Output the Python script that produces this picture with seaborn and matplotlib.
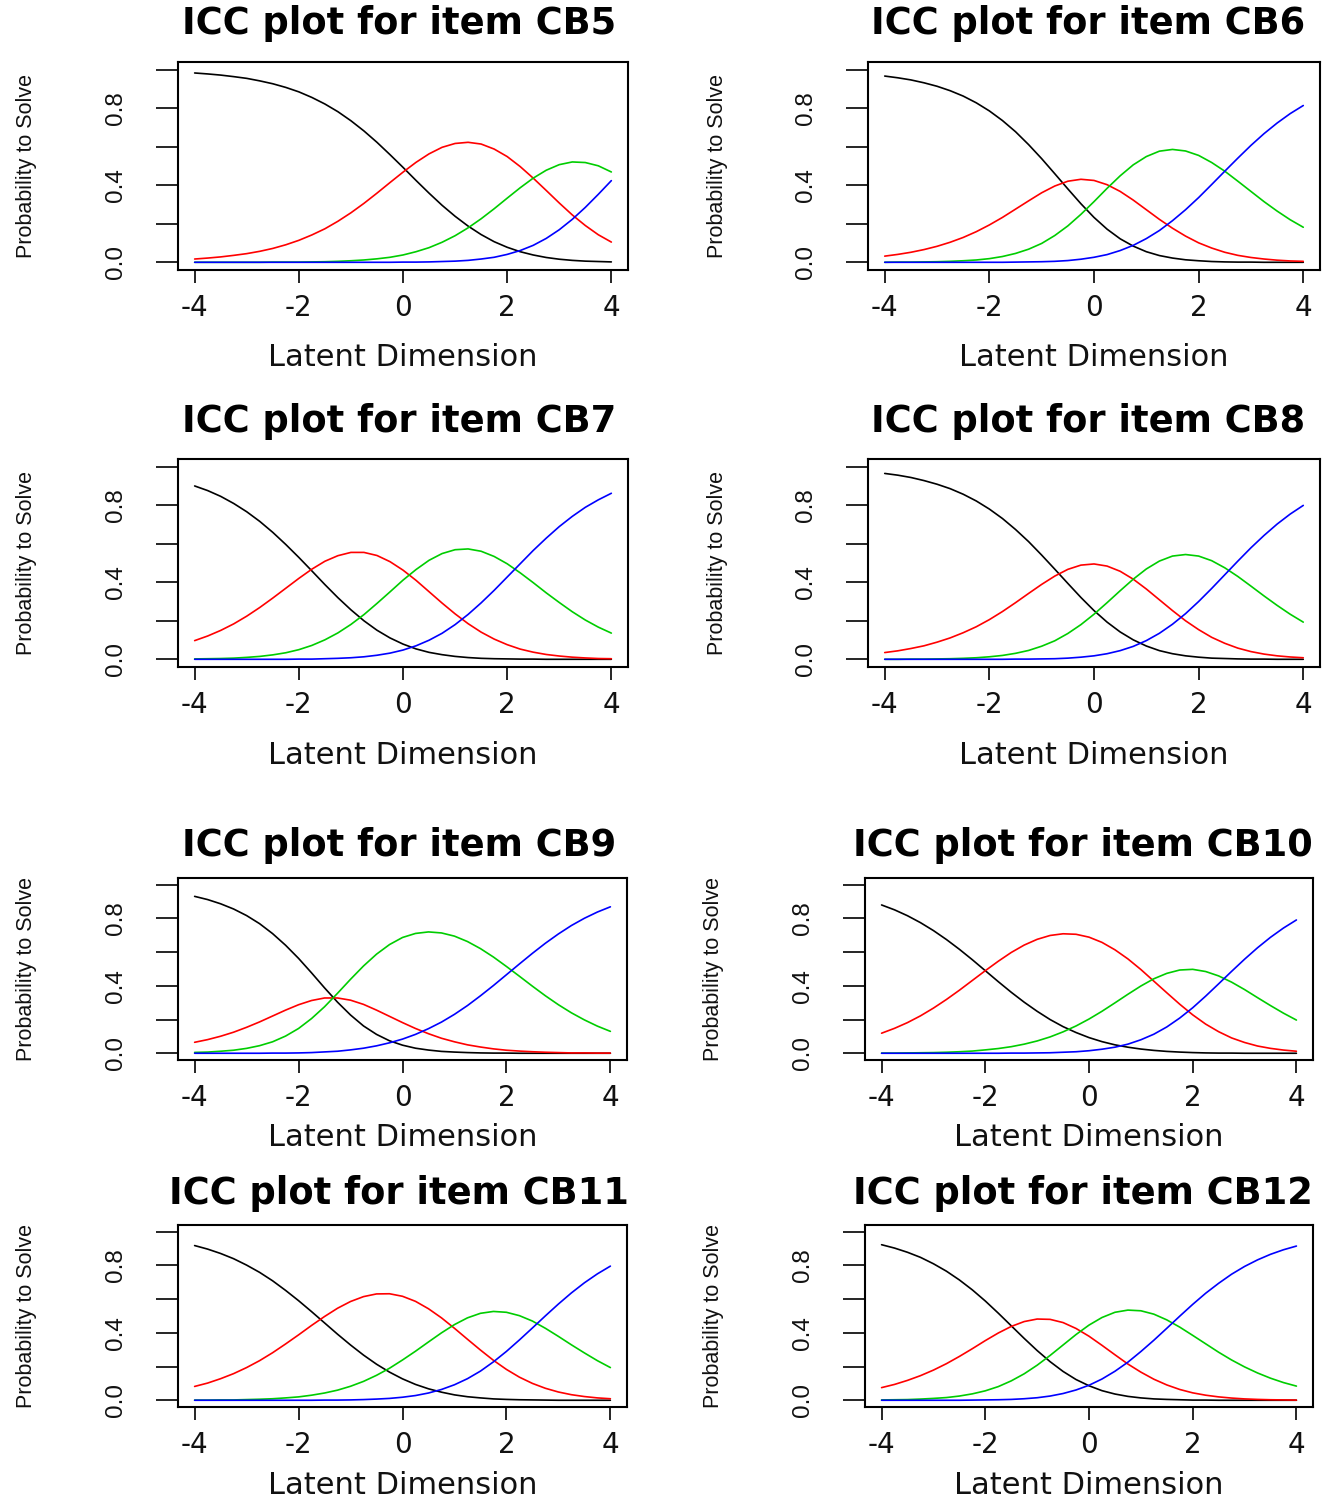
import numpy as np
import pandas as pd
import matplotlib
matplotlib.use("Agg")
import matplotlib.pyplot as plt
import seaborn as sns

# latent dimension grid the curves were read at
theta = [-4.0, -3.75, -3.5, -3.25, -3.0, -2.75, -2.5, -2.25, -2.0, -1.75, -1.5,
         -1.25, -1.0, -0.75, -0.5, -0.25, 0.0, 0.25, 0.5, 0.75, 1.0, 1.25,
         1.5, 1.75, 2.0, 2.25, 2.5, 2.75, 3.0, 3.25, 3.5, 3.75, 4.0]

items = ["CB5", "CB6", "CB7", "CB8", "CB9", "CB10", "CB11", "CB12"]
categories = ["0", "1", "2", "3"]

# category probabilities (black, red, green, blue)
cb5 = [
    [.983, .978, .972, .964, .955, .942, .927, .908, .885, .856, .822, .782, .735, .682, .623, .559, .493,
     .425, .359, .296, .239, .188, .144, .107, .078, .055, .038, .025, .016, .010, .006, .004, .002],
    [.017, .022, .028, .036, .045, .057, .072, .091, .114, .142, .174, .213, .257, .306, .359, .414, .468,
     .519, .563, .597, .617, .623, .614, .588, .549, .497, .437, .373, .308, .246, .191, .143, .105],
    [.000, .000, .000, .000, .000, .000, .001, .001, .001, .002, .003, .005, .008, .012, .018, .026, .038,
     .055, .076, .104, .138, .179, .226, .278, .333, .387, .437, .478, .507, .521, .518, .501, .469],
    [.000, .000, .000, .000, .000, .000, .000, .000, .000, .000, .000, .000, .000, .000, .000, .000, .001,
     .001, .002, .004, .006, .010, .017, .026, .041, .061, .088, .124, .169, .223, .285, .353, .424],
]
cb6 = [
    [.967, .958, .947, .932, .914, .891, .863, .828, .786, .736, .678, .611, .538, .460, .381, .304, .233,
     .172, .122, .084, .055, .035, .022, .013, .008, .004, .002, .001, .001, .000, .000, .000, .000],
    [.032, .041, .052, .066, .083, .104, .129, .159, .194, .233, .276, .319, .361, .396, .421, .431, .425,
     .403, .368, .323, .273, .223, .177, .136, .101, .074, .052, .036, .025, .017, .011, .007, .005],
    [.000, .001, .001, .002, .003, .005, .008, .012, .019, .030, .046, .068, .098, .139, .189, .249, .315,
     .384, .449, .506, .549, .577, .586, .578, .555, .518, .473, .421, .368, .315, .266, .221, .182],
    [.000, .000, .000, .000, .000, .000, .000, .000, .000, .000, .001, .002, .003, .005, .009, .016, .026,
     .040, .061, .088, .123, .165, .216, .273, .336, .404, .473, .541, .607, .668, .723, .772, .814],
]
cb7 = [
    [.900, .876, .846, .809, .766, .716, .659, .596, .529, .459, .388, .320, .257, .200, .151, .111, .079,
     .054, .036, .024, .015, .009, .005, .003, .002, .001, .001, .000, .000, .000, .000, .000, .000],
    [.097, .121, .150, .184, .224, .269, .318, .369, .420, .468, .509, .538, .555, .555, .539, .507, .463,
     .410, .351, .292, .236, .185, .141, .105, .076, .053, .037, .025, .017, .011, .007, .004, .003],
    [.002, .003, .004, .006, .010, .015, .023, .034, .050, .072, .101, .137, .181, .232, .290, .350, .411,
     .466, .514, .549, .569, .573, .561, .534, .496, .449, .398, .345, .295, .247, .204, .167, .136],
    [.000, .000, .000, .000, .000, .000, .000, .000, .001, .001, .003, .005, .008, .013, .021, .032, .048,
     .070, .099, .135, .180, .233, .293, .358, .427, .496, .565, .629, .689, .742, .789, .828, .862],
]
cb8 = [
    [.965, .956, .944, .928, .909, .886, .857, .822, .780, .731, .674, .611, .541, .468, .394, .321, .253,
     .193, .142, .101, .069, .045, .029, .018, .011, .006, .004, .002, .001, .001, .000, .000, .000],
    [.035, .044, .056, .070, .089, .111, .138, .169, .206, .248, .294, .342, .389, .432, .467, .489, .495,
     .484, .457, .416, .365, .309, .253, .200, .154, .114, .083, .058, .040, .027, .018, .012, .008],
    [.000, .000, .001, .001, .002, .003, .005, .008, .013, .020, .031, .046, .068, .096, .134, .180, .234,
     .294, .356, .416, .469, .510, .536, .544, .536, .512, .475, .430, .380, .329, .280, .234, .193],
    [.000, .000, .000, .000, .000, .000, .000, .000, .000, .000, .001, .001, .002, .003, .006, .011, .018,
     .029, .045, .067, .097, .135, .182, .237, .300, .368, .439, .510, .579, .643, .702, .754, .799],
]
cb9 = [
    [.931, .912, .887, .856, .817, .769, .710, .641, .563, .477, .388, .303, .227, .162, .112, .074, .048,
     .030, .019, .011, .007, .004, .002, .001, .001, .000, .000, .000, .000, .000, .000, .000, .000],
    [.065, .081, .101, .125, .154, .186, .221, .256, .288, .313, .328, .328, .315, .290, .256, .219, .182,
     .147, .116, .089, .068, .050, .037, .026, .018, .013, .009, .006, .004, .002, .002, .001, .001],
    [.005, .007, .012, .018, .029, .045, .068, .102, .147, .206, .276, .356, .439, .518, .588, .645, .687,
     .711, .720, .714, .695, .663, .621, .571, .515, .457, .398, .341, .288, .240, .198, .161, .130],
    [.000, .000, .000, .000, .000, .000, .001, .001, .002, .004, .008, .012, .020, .030, .044, .062, .084,
     .112, .146, .185, .231, .283, .341, .402, .466, .530, .593, .653, .708, .758, .801, .838, .869],
]
cb10 = [
    [.880, .851, .816, .775, .728, .675, .617, .555, .490, .425, .362, .303, .249, .200, .158, .123, .093,
     .069, .050, .036, .025, .017, .011, .007, .004, .002, .001, .001, .000, .000, .000, .000, .000],
    [.119, .148, .182, .222, .268, .319, .374, .432, .490, .546, .598, .642, .676, .699, .709, .706, .689,
     .658, .614, .560, .497, .428, .359, .291, .228, .173, .128, .091, .064, .043, .029, .019, .012],
    [.001, .001, .002, .003, .004, .006, .009, .013, .020, .028, .039, .054, .073, .097, .127, .162, .203,
     .249, .299, .350, .399, .442, .474, .494, .498, .485, .459, .422, .378, .330, .283, .238, .197],
    [.000, .000, .000, .000, .000, .000, .000, .000, .000, .000, .001, .001, .002, .003, .006, .009, .015,
     .024, .036, .054, .080, .113, .156, .209, .270, .339, .412, .486, .558, .626, .688, .743, .791],
]
cb11 = [
    [.918, .897, .871, .840, .802, .759, .709, .652, .591, .526, .459, .392, .328, .268, .214, .167, .127,
     .094, .068, .048, .032, .021, .014, .008, .005, .003, .002, .001, .000, .000, .000, .000, .000],
    [.082, .102, .128, .158, .194, .235, .282, .334, .388, .444, .497, .546, .586, .615, .631, .632, .617,
     .587, .543, .489, .427, .362, .298, .237, .183, .137, .100, .071, .049, .033, .022, .014, .009],
    [.001, .001, .002, .002, .004, .006, .009, .014, .020, .030, .043, .060, .083, .112, .148, .190, .239,
     .291, .346, .400, .449, .489, .516, .527, .522, .502, .470, .427, .379, .329, .281, .235, .194],
    [.000, .000, .000, .000, .000, .000, .000, .000, .000, .000, .001, .001, .002, .004, .007, .011, .018,
     .028, .043, .064, .092, .128, .173, .228, .290, .358, .429, .501, .571, .637, .697, .750, .796],
]
cb12 = [
    [.923, .903, .878, .848, .810, .766, .714, .655, .589, .517, .442, .367, .295, .229, .171, .123, .086,
     .057, .037, .023, .014, .008, .005, .003, .001, .001, .000, .000, .000, .000, .000, .000, .000],
    [.075, .094, .118, .146, .179, .217, .260, .306, .354, .399, .438, .467, .482, .480, .461, .426, .380,
     .326, .270, .215, .167, .125, .091, .064, .044, .030, .020, .013, .008, .005, .003, .002, .001],
    [.002, .003, .004, .007, .011, .016, .025, .038, .056, .081, .115, .157, .208, .266, .328, .390, .446,
     .491, .522, .535, .531, .511, .477, .434, .385, .335, .285, .239, .198, .162, .131, .105, .084],
    [.000, .000, .000, .000, .000, .000, .000, .001, .002, .003, .005, .009, .015, .025, .040, .061, .089,
     .126, .172, .226, .289, .356, .427, .499, .569, .635, .694, .748, .794, .833, .866, .893, .915],
]
item_probs = [cb5, cb6, cb7, cb8, cb9, cb10, cb11, cb12]

x_ticks = [-4, -2, 0, 2, 4]
y_ticks = [0.0, 0.2, 0.4, 0.6, 0.8, 1.0]
y_ticklabels = ["0.0", "", "0.4", "", "0.8", ""]

# --- layout (pixels of a 1331x1499 canvas) ---
W, H = 1331, 1499
# left, top, right, bottom of each plot box
boxes = [
    (178, 62, 628, 270), (868, 62, 1320, 270),
    (178, 459, 628, 667), (868, 459, 1320, 667),
    (178, 878, 627, 1060), (865, 878, 1313, 1060),
    (178, 1225, 627, 1407), (865, 1225, 1313, 1407),
]
title_y = [23, 23, 421, 421, 846, 846, 1193, 1193]
title_x = [399, 1088, 399, 1088, 399, 1083, 399, 1083]
xlab_gap = [88, 88, 88, 88, 78, 78, 78, 78]

sns.set_theme(style="ticks")
plt.rcParams["font.family"] = ["DejaVu Sans"]
narrow = ["Liberation Sans", "DejaVu Sans"]
pal = ["#000000", "#FF0000", "#00CD00", "#0000FF"]

fig = plt.figure(figsize=(W / 100, H / 100), dpi=100)
fig.patch.set_facecolor("white")

for k, (name, probs) in enumerate(zip(items, item_probs)):
    l, t, r, b = boxes[k]
    w, h = r - l, b - t
    ax = fig.add_axes([l / W, 1 - b / H, w / W, h / H])
    ax.set_facecolor("white")

    df = pd.DataFrame({
        "theta": np.tile(theta, len(categories)),
        "prob": np.concatenate(probs),
        "cat": np.repeat(categories, len(theta)),
    })
    sns.lineplot(data=df, x="theta", y="prob", hue="cat", hue_order=categories,
                 palette=pal, legend=False, linewidth=1.2, ax=ax)

    ax.set_xlim(-4.32, 4.32)
    ax.set_ylim(-0.04, 1.04)
    for s in ax.spines.values():
        s.set_visible(True)
        s.set_linewidth(1.5)
        s.set_color("black")

    ax.set_xticks(x_ticks)
    ax.set_xticklabels([str(v) for v in x_ticks], fontsize=20, color="#111111")
    ax.set_yticks(y_ticks)
    ax.set_yticklabels(y_ticklabels, fontsize=17.5, family=narrow, color="#111111",
                       rotation=90, ha="center", va="center")
    ax.tick_params(axis="x", direction="out", length=9.4, width=1.2, pad=8, colors="black")
    ax.tick_params(axis="y", direction="out", length=15.8, width=1.2, pad=29, colors="black")
    for lab in ax.get_xticklabels() + ax.get_yticklabels():
        lab.set_color("#111111")

    ax.set_xlabel("Latent Dimension", fontsize=22, color="#111111")
    ax.xaxis.set_label_coords(0.5, -xlab_gap[k] / h)
    ax.xaxis.label.set_va("center")
    ax.set_ylabel("Probability to Solve", fontsize=15.5, family=narrow, color="#111111")
    ax.yaxis.set_label_coords(-151 / w, 0.5)
    ax.yaxis.label.set_va("center")

    ax.text((title_x[k] - l) / w, (b - title_y[k]) / h, f"ICC plot for item {name}",
            transform=ax.transAxes, ha="center", va="center",
            fontsize=26.5, fontweight="bold", color="black")

fig.savefig("out.png", dpi=100, facecolor="white")
